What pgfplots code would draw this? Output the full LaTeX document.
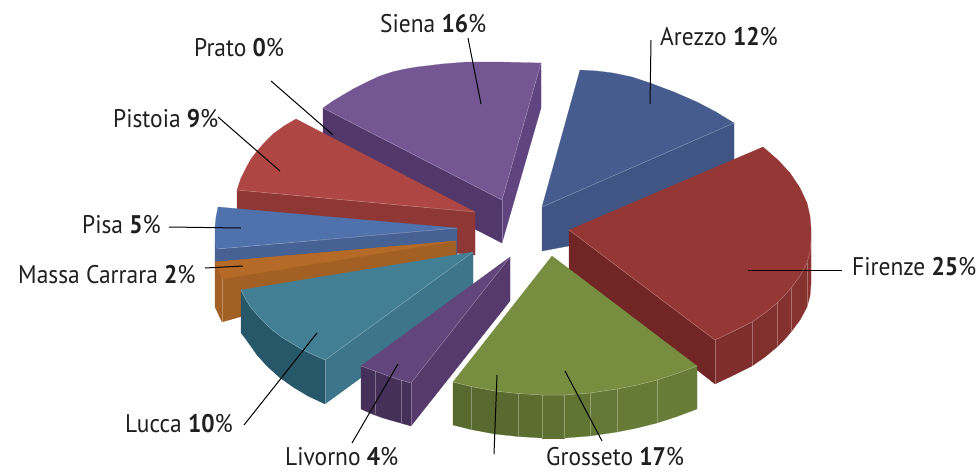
\documentclass[border=0pt]{standalone}
\usepackage{fontspec}
\setmainfont{PT Sans}
\usepackage{graphicx}
\usepackage{pgfplots}
\pgfplotsset{compat=1.18}
\definecolor{sienaT}{HTML}{745693}\definecolor{sienaL}{HTML}{52376B}\definecolor{sienaR}{HTML}{5F4480}
\definecolor{arT}{HTML}{465C8E}\definecolor{arS}{HTML}{405583}
\definecolor{piT}{HTML}{AE4644}\definecolor{piS}{HTML}{8F3735}
\definecolor{paT}{HTML}{4F71AC}\definecolor{paS}{HTML}{466295}
\definecolor{maT}{HTML}{B56A28}\definecolor{maS}{HTML}{A36024}
\definecolor{luT}{HTML}{427F95}\definecolor{luL}{HTML}{27586A}\definecolor{luR}{HTML}{3D758A}
\definecolor{liT}{HTML}{62457A}\definecolor{liF}{HTML}{45305A}\definecolor{liR}{HTML}{573A6C}
\definecolor{grT}{HTML}{778D3F}
\definecolor{fiT}{HTML}{943735}\definecolor{fiL}{HTML}{712524}
\definecolor{fa}{HTML}{7F2E2D}\definecolor{fb}{HTML}{82302E}\definecolor{fc}{HTML}{85312F}\definecolor{fd}{HTML}{883230}\definecolor{fe}{HTML}{8B3331}
\definecolor{ga}{HTML}{56692E}\definecolor{gb}{HTML}{57692E}\definecolor{gc}{HTML}{586A2F}\definecolor{gd}{HTML}{5B6E30}\definecolor{ge}{HTML}{5E7132}\definecolor{gf}{HTML}{617533}\definecolor{gg}{HTML}{647935}\definecolor{gh}{HTML}{667B36}\definecolor{gi}{HTML}{677C37}
\newcommand{\face}[2]{\addplot[fill=#1,draw=#1,line width=0.2pt,line join=round] coordinates {#2} --cycle;}
\newcommand{\edge}[1]{\addplot[draw=white,opacity=0.3,line width=0.5pt,line join=round] coordinates {#1};}
\newcommand{\leader}[1]{\addplot[draw=black,line width=1pt] coordinates {#1};}
\newcommand{\lab}[4]{\node[anchor=west,inner sep=0pt,font=\fontsize{25.5}{28}\selectfont,text=black!88] at (axis cs:#1,#2) {\scalebox{0.92}[1]{#3 \textbf{#4}\%}};}
\begin{document}
\begin{tikzpicture}
\useasboundingbox (0,0) rectangle (977pt,472pt);
\begin{axis}[at={(0,0)},anchor=south west,scale only axis,width=977pt,height=472pt,xmin=0,xmax=977,ymin=0,ymax=472,y dir=reverse,hide axis,clip=false,no markers]
% Siena
\face{sienaL}{(323,108)(502,200)(502,243)(323,151)}
\face{sienaR}{(502,200)(541,63)(541,108)(502,243)}
\face{sienaT}{(323,108)(333,101)(343,95)(355,88)(367,82)(380,76)(392,72)(405,69)(417,67)(442,64)(467,62)(500,62)(541,63)(502,200)}
\edge{(323,108)(502,200)(541,63)}
\edge{(502,200)(502,243)}
% Arezzo
\face{arS}{(542,207)(734,123)(734,158)(734,215)(542,251)}
\face{arT}{(580,70)(597,71)(613,73)(632,77)(650,83)(674,92)(697,102)(716,112)(734,123)(542,207)}
\edge{(542,207)(734,123)}
% Pistoia
\face{piS}{(237,190)(475,212)(475,255)(237,233)}
\face{piT}{(296,119)(284,126)(273,134)(265,142)(257,151)(251,159)(246,168)(241,178)(237,190)(475,212)}
\edge{(237,190)(475,212)}
% Pisa
\face{paS}{(217,249)(457,228)(457,262)(217,290)(215,262)(215,240)}
\face{paT}{(218,207)(216,217)(215,227)(215,240)(217,249)(457,228)}
\edge{(217,249)(457,228)}
% Massa
\face{maS}{(215,262)(215,307)(222,322)(300,300)(456,270)(456,241)}
\face{maT}{(215,262)(456,241)(222,279)}
\edge{(222,279)(222,322)}
% Lucca
\face{luR}{(325,360)(473,252)(473,296)(325,404)}
\face{luL}{(241,290)(246,300)(252,309)(260,318)(271,329)(283,338)(303,350)(325,360)(325,404)(308,396)(293,387)(279,377)(267,366)(257,355)(250,345)(245,338)(241,333)}
\face{luT}{(473,252)(241,290)(246,300)(252,309)(260,318)(271,329)(283,338)(303,350)(325,360)}
\edge{(241,290)(246,300)(252,309)(260,318)(271,329)(283,338)(303,350)(325,360)(473,252)}
\edge{(325,360)(325,404)}
% Livorno
\face{liR}{(411,383)(510,257)(510,301)(411,426)}
\face{liF}{(361,366)(372,370)(383,374)(397,379)(411,383)(411,426)(397,422)(383,418)(372,414)(361,409)}
\face{liT}{(510,257)(361,366)(372,370)(383,374)(397,379)(411,383)}
\edge{(361,366)(372,370)(383,374)(397,379)(411,383)(510,257)}
\edge{(411,383)(411,426)}
\edge{(375,371)(375,414)}
\edge{(401,380)(401,423)}
% Firenze
\face{fiL}{(569,230)(715,340)(715,384)(569,270)}
\face{fa}{(715,340)(733,331.5)(752,322)(752,366)(733,375.5)(715,384)}
\face{fb}{(752,322)(765,313)(777,303)(777,347)(765,357)(752,366)}
\face{fc}{(777,303)(785,295)(791,288)(791,332)(785,339)(777,347)}
\face{fd}{(791,288)(800,276)(807,263)(807,307)(800,320)(791,332)}
\face{fe}{(807,263)(810,252)(811,240)(811,284)(810,296)(807,307)}
\face{fiT}{(569,230)(763,147)(778,160)(790,173)(800,188)(807,203)(810,216)(811,228)(811,240)(810,252)(807,263)(800,276)(791,288)(785,295)(777,303)(765,313)(752,322)(733,331.5)(715,340)}
\edge{(569,230)(715,340)(733,331.5)(752,322)(765,313)(777,303)(785,295)(791,288)(800,276)(807,263)(810,252)(811,240)}
\edge{(715,340)(715,384)}\edge{(752,322)(752,366)}\edge{(777,303)(777,347)}\edge{(791,288)(791,332)}\edge{(807,263)(807,307)}
% Grosseto
\face{ga}{(453,382)(471,386.5)(471,429.5)(453,425)}
\face{gb}{(471,386.5)(495,391)(495,434)(471,429.5)}
\face{gc}{(495,391)(518,393.5)(518,436.5)(495,434)}
\face{gd}{(518,393.5)(542,395)(542,438)(518,436.5)}
\face{ge}{(542,395)(564,395)(564,438)(542,438)}
\face{gf}{(564,395)(590,393)(590,436)(564,438)}
\face{gg}{(590,393)(617,389)(617,432)(590,436)}
\face{gh}{(617,389)(637,385)(657,380)(657,423)(637,428)(617,432)}
\face{gi}{(657,380)(677,373.5)(697,366)(697,409)(677,416.5)(657,423)}
\face{grT}{(552,256)(697,366)(677,373.5)(657,380)(637,385)(617,389)(590,393)(564,395)(542,395)(518,393.5)(495,391)(471,386.5)(453,382)}
\edge{(453,382)(471,386.5)(495,391)(518,393.5)(542,395)(564,395)(590,393)(617,389)(637,385)(657,380)(677,373.5)(697,366)}
\edge{(471,386.5)(471,429.5)}\edge{(518,393.5)(518,436.5)}\edge{(542,395)(542,438)}\edge{(564,395)(564,438)}\edge{(590,393)(590,436)}\edge{(617,389)(617,432)}\edge{(657,380)(657,423)}
% Leaders
\leader{(271,81)(333,135)}
\leader{(218,117)(280,171)}
\leader{(468,38)(481,104)}
\leader{(651,40)(650,104)}
\leader{(748,270)(842,270)}
\leader{(169,227)(241,228)}
\leader{(205,268)(243,266)}
\leader{(244,425)(317,333)}
\leader{(352,443)(398,364)}
\leader{(565,371)(602,441)}
\leader{(497,375)(494,454)}
% Labels
\lab{380}{24}{Siena}{16}
\lab{660}{37}{Arezzo}{12}
\lab{194}{48}{Prato}{0}
\lab{113}{119}{Pistoia}{9}
\lab{82}{225}{Pisa}{5}
\lab{18}{275}{Massa Carrara}{2}
\lab{125}{424}{Lucca}{10}
\lab{285}{456.5}{Livorno}{4}
\lab{546}{456.5}{Grosseto}{17}
\lab{852}{267}{Firenze}{25}
\end{axis}
\end{tikzpicture}
\end{document}
